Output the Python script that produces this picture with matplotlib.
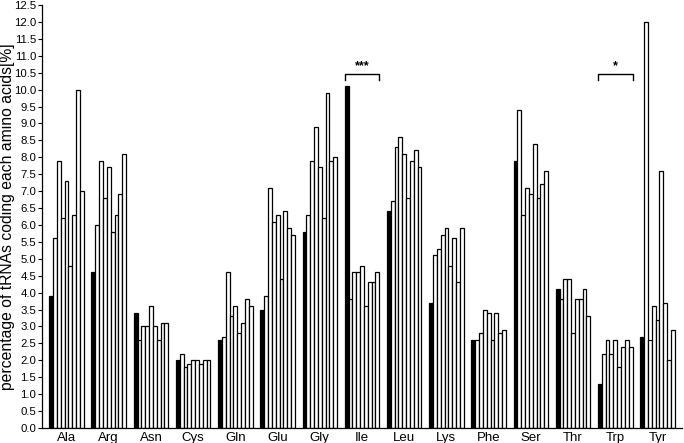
import numpy as np
import matplotlib
matplotlib.use('Agg')
import matplotlib.pyplot as plt

plt.rcParams['font.family'] = ['Liberation Sans', 'DejaVu Sans']

amino_acids = ['Ala', 'Arg', 'Asn', 'Cys', 'Gln', 'Glu', 'Gly', 'Ile',
               'Leu', 'Lys', 'Phe', 'Ser', 'Thr', 'Trp', 'Tyr']

# first value of each group = black bar, the rest = white bars
ala = [3.9, 5.6, 7.9, 6.2, 7.3, 4.8, 6.3, 10.0, 7.0]
arg = [4.6, 6.0, 7.9, 6.8, 7.7, 5.8, 6.3, 6.9, 8.1]
asn = [3.4, 2.6, 3.0, 3.0, 3.6, 3.0, 2.6, 3.1, 3.1]
cys = [2.0, 2.2, 1.8, 1.9, 2.0, 2.0, 1.9, 2.0, 2.0]
gln = [2.6, 2.7, 4.6, 3.3, 3.6, 2.8, 3.1, 3.8, 3.6]
glu = [3.5, 3.9, 7.1, 6.1, 6.3, 4.4, 6.4, 5.9, 5.7]
gly = [5.8, 6.3, 7.9, 8.9, 7.7, 6.2, 9.9, 7.9, 8.0]
ile = [10.1, 3.8, 4.6, 4.6, 4.8, 3.6, 4.3, 4.3, 4.6]
leu = [6.4, 6.7, 8.3, 8.6, 8.1, 6.8, 7.9, 8.2, 7.7]
lys = [3.7, 5.1, 5.3, 5.7, 5.9, 4.8, 5.6, 4.3, 5.9]
phe = [2.6, 2.6, 2.8, 3.5, 3.4, 2.6, 3.4, 2.8, 2.9]
ser = [7.9, 9.4, 6.3, 7.1, 6.9, 8.4, 6.8, 7.2, 7.6]
thr = [4.1, 3.8, 4.4, 4.4, 2.8, 3.8, 3.8, 4.1, 3.3]
trp = [1.3, 2.2, 2.6, 2.2, 2.6, 1.8, 2.4, 2.6, 2.4]
tyr = [2.7, 12.0, 2.6, 3.6, 3.2, 7.6, 3.7, 2.0, 2.9]

groups = [ala, arg, asn, cys, gln, glu, gly, ile, leu, lys, phe, ser, thr, trp, tyr]

# significance marks: (group index, label)
signif = [(7, '***'), (13, '*')]

fig = plt.figure(figsize=(6.84, 4.43), dpi=100)
ax = fig.add_axes([0.061, 0.034, 0.936, 0.9547])

w = 0.091
n = len(ala)
for i, vals in enumerate(groups):
    for j, v in enumerate(vals):
        x = i + (j - (n - 1) / 2) * w
        if j == 0:
            ax.bar(x, v, width=w, color='black', edgecolor='black', linewidth=0.9)
        else:
            ax.bar(x, v, width=w, color='white', edgecolor='black', linewidth=0.9)

for i, lab in signif:
    x0 = i - (n / 2) * w
    x1 = i + (n / 2) * w
    ax.plot([x0, x0, x1, x1], [10.27, 10.45, 10.45, 10.27], color='black', lw=1.0)
    ax.text(i, 10.52, lab, ha='center', va='bottom', fontsize=9, fontweight='bold')

ax.set_xlim(-0.588, 14.58)
ax.set_ylim(0, 12.5)
ax.set_xticks(range(len(amino_acids)))
ax.set_xticklabels(amino_acids, fontsize=9.5)
ax.set_yticks(np.arange(0, 12.51, 0.5))
ax.set_yticklabels(['%.1f' % t for t in np.arange(0, 12.51, 0.5)], fontsize=8.2)
ax.tick_params(axis='x', length=0, pad=3)
ax.tick_params(axis='y', length=3, width=0.8, pad=1)
ax.spines['top'].set_visible(False)
ax.spines['right'].set_visible(False)
ax.spines['left'].set_linewidth(0.9)
ax.spines['bottom'].set_linewidth(0.9)
ax.set_ylabel('percentage of tRNAs coding each amino acids[%]', fontsize=11.3)
ax.yaxis.set_label_coords(-0.0415, 0.5)

plt.savefig('out.png', dpi=100)
